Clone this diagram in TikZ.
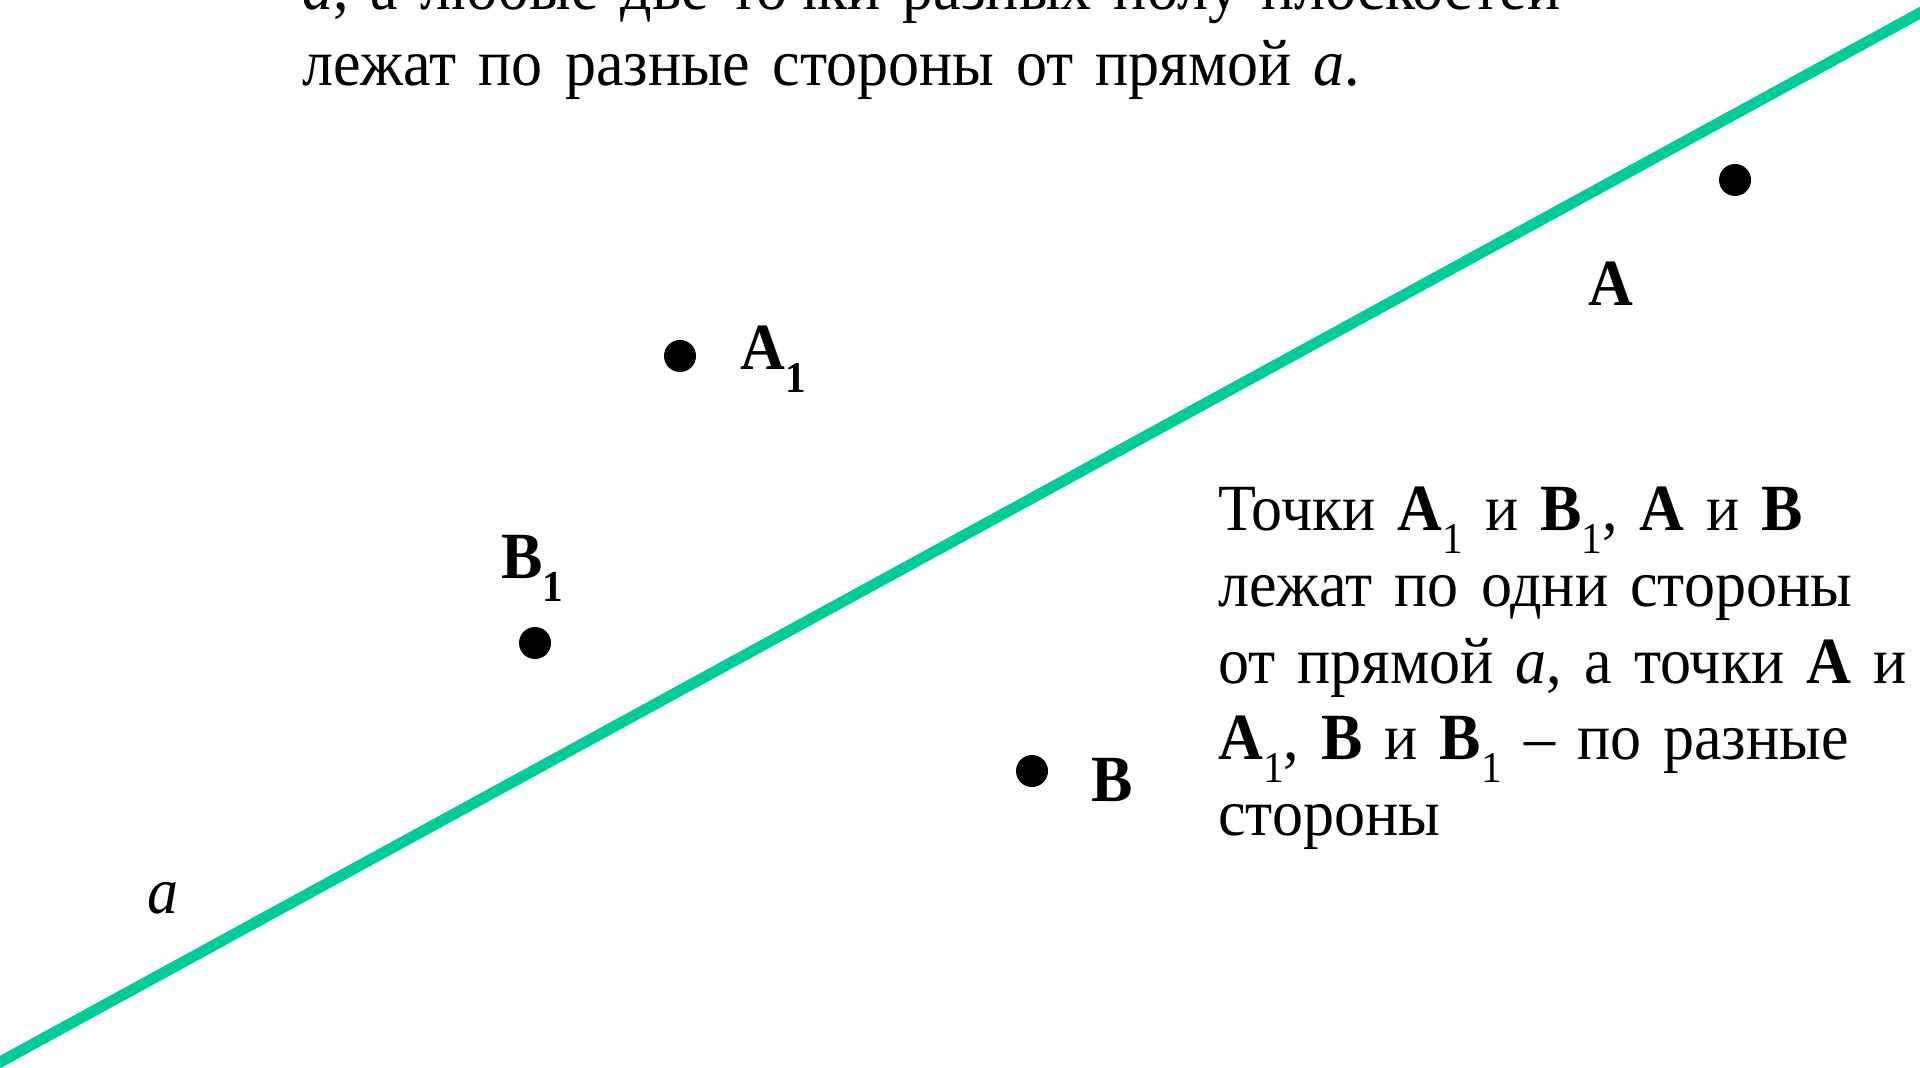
\documentclass[tikz,border=0pt]{standalone}
\usepackage{fontspec}
\setmainfont{Liberation Serif}[FakeStretch=0.94,WordSpace=0.8]
\definecolor{linegreen}{RGB}{0,204,153}
\newcommand\subone{\raisebox{-11.5pt}{\fontsize{22}{22}\selectfont 1}}
\begin{document}
\begin{tikzpicture}[x=0.5pt,y=-0.5pt,
  dot/.style={circle,fill=black,inner sep=0pt,minimum size=16pt},
  lbl/.style={inner sep=0pt,anchor=base west,font=\fontsize{33}{38}\selectfont\bfseries},
  body/.style={inner sep=0pt,anchor=base west,align=left,font=\fontsize{33}{38}\selectfont}]
\useasboundingbox (0,0) rectangle (1920,1068);
\clip (0,0) rectangle (1920,1068);
\fill[white] (0,0) rectangle (1920,1068);
% line a
\coordinate (L1) at (-20,1073);
\coordinate (L2) at (1940,2);
\draw[linegreen,line width=5.5pt] (L1) -- (L2);
% top text (cut off)
\node[body,text width=700pt] (top) at (302,10)
  {\textit{а}, а любые две точки разных полу плоскостей\\
   лежат по разные стороны от прямой \textit{а}.};
% points
\node[dot] (A) at (1735,180) {};
\node[dot] (A1) at (680,356) {};
\node[dot] (B1) at (535,643) {};
\node[dot] (B) at (1032,771) {};
% labels
\node[lbl] (lA) at (1588,306) {А};
\node[lbl] (lA1) at (740,370) {А\subone};
\node[lbl] (lB1) at (501,579) {В\subone};
\node[lbl] (lB) at (1091,801) {В};
\node[body] (la) at (147,913) {\textit{а}};
% right text
\node[body,text width=400pt] (txt) at (1218,531)
  {Точки \textbf{А}\subone{} и \textbf{В}\subone, \textbf{А} и \textbf{В}\\
   лежат по одни стороны\\
   от прямой \textit{а}, а точки \textbf{А} и\\
   \textbf{А}\subone, \textbf{В} и \textbf{В}\subone{} – по разные\\
   стороны};
\end{tikzpicture}
\end{document}
